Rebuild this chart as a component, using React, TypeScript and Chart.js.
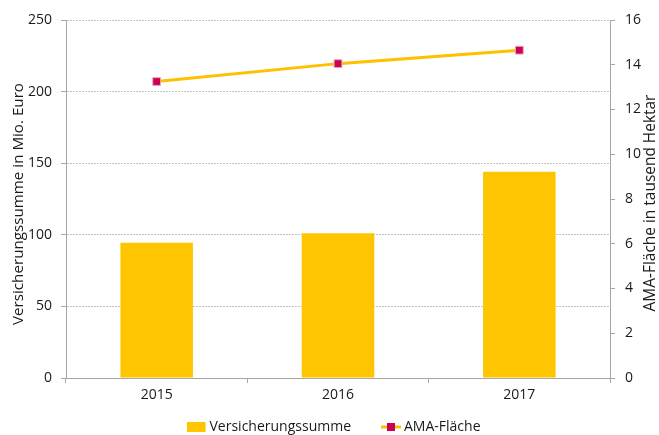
import { useEffect, useRef } from 'react';
import { Chart, registerables } from 'chart.js';

Chart.register(...registerables);

const categories = ['2015', '2016', '2017'];
const versicherungssumme = [94.5, 101, 144];
const amaFlaeche = [13.25, 14.05, 14.65];
const leftTickValues = [0, 50, 100, 150, 200, 250];
const rightTickValues = [0, 2, 4, 6, 8, 10, 12, 14, 16];
const leftTitle = 'Versicherungssumme in Mio. Euro';
const rightTitle = 'AMA-Fläche in tausend Hektar';
const barLabel = 'Versicherungssumme';
const lineLabel = 'AMA-Fläche';

const FONT = '"Open Sans", sans-serif';
const TEXT = '#1a1a1a';
const AXIS = '#a6a6a6';
const GRID = '#c4c4c4';
const BAR = '#ffc500';
const LINE = '#ffc000';
const MARK = '#cc0055';

function swatch(kind: 'bar' | 'line'): HTMLCanvasElement {
  const c = document.createElement('canvas');
  c.width = 20;
  c.height = 12;
  const g = c.getContext('2d')!;
  if (kind === 'bar') {
    g.fillStyle = BAR;
    g.fillRect(0, 1, 19, 10);
  } else {
    g.strokeStyle = LINE;
    g.lineWidth = 3;
    g.beginPath();
    g.moveTo(0, 6);
    g.lineTo(20, 6);
    g.stroke();
    g.fillStyle = MARK;
    g.fillRect(6, 2, 8, 8);
  }
  return c;
}

function drawTitle(ctx: CanvasRenderingContext2D, text: string, x: number, y: number, targetWidth: number) {
  ctx.font = `15px ${FONT}`;
  const w = ctx.measureText(text).width;
  const size = Math.min(16, 15 * targetWidth / w);
  ctx.font = `${size.toFixed(2)}px ${FONT}`;
  ctx.save();
  ctx.translate(x, y);
  ctx.rotate(-Math.PI / 2);
  ctx.fillText(text, 0, 0);
  ctx.restore();
}

const titlesPlugin = {
  id: 'axisTitles',
  afterDraw(chart: any) {
    const ctx = chart.ctx as CanvasRenderingContext2D;
    ctx.save();
    ctx.fillStyle = TEXT;
    ctx.textAlign = 'center';
    ctx.textBaseline = 'middle';
    drawTitle(ctx, leftTitle, 19, 204, 242);
    drawTitle(ctx, rightTitle, 651, 203, 217);
    ctx.restore();
  },
};

const legendPlugin = {
  id: 'customLegend',
  afterDraw(chart: any) {
    const ctx = chart.ctx as CanvasRenderingContext2D;
    const items = chart.data.datasets.map((ds: any, i: number) => ({
      text: ds.label as string,
      img: swatch(i === 0 ? 'bar' : 'line'),
    }));
    ctx.save();
    ctx.font = `14px ${FONT}`;
    ctx.fillStyle = TEXT;
    ctx.textBaseline = 'middle';
    ctx.textAlign = 'left';
    const gapBox = 3;
    const gapItem = 30;
    const widths = items.map((it: any) => it.img.width + gapBox + ctx.measureText(it.text).width);
    const total = widths.reduce((a: number, b: number) => a + b, 0) + gapItem * (items.length - 1);
    let x = 333.5 - total / 2;
    const y = 427;
    items.forEach((it: any, i: number) => {
      ctx.drawImage(it.img, x, y - it.img.height / 2);
      ctx.fillText(it.text, x + it.img.width + gapBox, y);
      x += widths[i] + gapItem;
    });
    ctx.restore();
  },
};

export default function App() {
  const ref = useRef<HTMLCanvasElement>(null);
  useEffect(() => {
    document.body.style.margin = '0';
    const chart = new Chart(ref.current!, {
      type: 'bar',
      data: {
        labels: categories,
        datasets: [
          {
            type: 'bar',
            label: barLabel,
            data: versicherungssumme,
            backgroundColor: BAR,
            yAxisID: 'y',
            categoryPercentage: 1,
            barPercentage: 0.4,
            order: 2,
          },
          {
            type: 'line',
            label: lineLabel,
            data: amaFlaeche,
            borderColor: LINE,
            borderWidth: 3,
            backgroundColor: MARK,
            pointBackgroundColor: MARK,
            pointBorderColor: '#e9a3b8',
            pointBorderWidth: 1,
            pointStyle: 'rect',
            pointRadius: 5.5,
            yAxisID: 'y1',
            order: 1,
          } as any,
        ],
      },
      options: {
        animation: false,
        responsive: false,
        layout: { padding: { top: 20, bottom: 27, left: 0, right: 0 } },
        plugins: { legend: { display: false }, tooltip: { enabled: false } },
        scales: {
          x: {
            offset: true,
            grid: {
              offset: true,
              drawOnChartArea: false,
              drawTicks: true,
              tickLength: 5,
              tickColor: AXIS,
            },
            border: { color: AXIS, width: 1 },
            ticks: { color: TEXT, font: { family: FONT, size: 14 }, padding: 4 },
            afterFit: (s: any) => { s.height = 30; },
          },
          y: {
            position: 'left',
            min: 0,
            max: 250,
            afterBuildTicks: (s: any) => { s.ticks = leftTickValues.map((v) => ({ value: v })); },
            grid: {
              color: GRID,
              tickColor: AXIS,
              tickLength: 5,
              tickBorderDash: [],
            },
            border: { color: AXIS, width: 1, dash: [2, 1] },
            ticks: { color: TEXT, font: { family: FONT, size: 14 }, padding: 9 },
            afterFit: (s: any) => { s.width = 66; },
          },
          y1: {
            position: 'right',
            min: 0,
            max: 16,
            afterBuildTicks: (s: any) => { s.ticks = rightTickValues.map((v) => ({ value: v })); },
            grid: { drawOnChartArea: false, tickColor: AXIS, tickLength: 5 },
            border: { color: AXIS, width: 1 },
            ticks: { color: TEXT, font: { family: FONT, size: 14 }, padding: 10 },
            afterFit: (s: any) => { s.width = 49; },
          },
        },
      },
      plugins: [titlesPlugin, legendPlugin],
    });
    return () => chart.destroy();
  }, []);
  return (
    <div style={{ width: 659, height: 435 }}>
      <canvas ref={ref} width={659} height={435} style={{ display: 'block' }} />
    </div>
  );
}
